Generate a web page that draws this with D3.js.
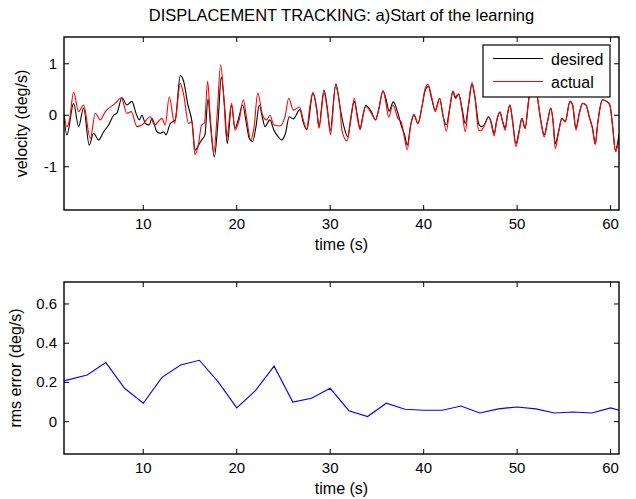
<!DOCTYPE html>
<html>
<head>
<meta charset="utf-8">
<script src="https://cdn.jsdelivr.net/npm/d3@7"></script>
<style>
  body { margin: 0; background: #fff; }
  svg { display: block; }
  text { font-family: "Liberation Sans", Arial, sans-serif; fill: #000; }
</style>
</head>
<body>
<svg id="chart" width="636" height="499"></svg>
<script>
// desired velocity (deg/s), read at turning points: [time, value]
var desired = [
  [1.52,-0.05],[1.83,-0.38],[2.55,0.23],[3.08,-0.22],[3.62,0.14],[4.22,-0.58],[4.69,-0.35],
  [5.22,-0.48],[5.76,-0.32],[6.29,-0.19],[6.83,0.0],[7.18,0.04],[7.72,0.34],[8.25,0.2],
  [8.79,0.27],[9.22,0.04],[9.57,-0.09],[9.86,0.0],[10.22,-0.16],[10.64,-0.19],[10.93,-0.06],
  [11.46,-0.32],[11.82,-0.35],[12.18,-0.32],[12.43,-0.38],[12.89,-0.16],[13.42,-0.09],
  [13.96,0.77],[14.32,0.66],[14.78,0.2],[15.21,-0.12],[15.56,-0.68],[15.92,-0.58],
  [16.24,-0.48],[16.6,-0.38],[16.93,0.32],[17.2,-0.2],[17.6,-0.81],[18.0,-0.12],[18.35,0.74],
  [18.74,0.07],[18.99,-0.55],[19.45,0.2],[19.81,-0.25],[20.16,-0.09],[20.63,0.2],[21.06,-0.19],
  [21.34,-0.45],[21.7,-0.51],[22.06,-0.22],[22.41,0.2],[22.77,-0.06],[23.02,-0.22],[23.55,-0.09],
  [23.98,-0.29],[24.45,-0.42],[24.8,-0.48],[25.2,-0.36],[25.62,-0.03],[26.05,-0.07],[26.76,0.11],
  [27.12,-0.14],[27.5,-0.28],[28.15,0.43],[28.55,0.14],[28.8,-0.22],[29.33,0.49],[29.69,0.14],
  [30.0,-0.3],[30.61,0.61],[31.1,0.1],[31.47,-0.22],[31.88,-0.42],[32.2,-0.05],[32.58,0.27],
  [32.9,0.0],[33.2,-0.26],[33.5,0.0],[33.8,0.19],[34.4,0.07],[34.85,-0.09],[35.2,0.12],
  [35.65,0.47],[36.0,0.3],[36.3,0.08],[36.75,0.26],[37.25,0.04],[37.6,-0.2],[37.96,-0.38],
  [38.25,-0.58],[38.6,-0.2],[38.96,0.0],[39.39,-0.16],[39.82,0.17],[40.17,0.49],[40.5,0.56],
  [40.85,0.33],[41.24,0.1],[41.71,0.33],[42.06,0.0],[42.42,-0.19],[42.8,0.15],[43.13,0.46],
  [43.4,0.33],[43.74,0.41],[44.1,0.14],[44.45,-0.16],[44.8,0.2],[45.17,0.6],[45.5,0.33],
  [45.88,-0.16],[46.12,-0.22],[46.5,-0.18],[46.95,-0.03],[47.2,-0.12],[47.55,-0.35],[47.8,-0.12],
  [48.16,0.06],[48.45,-0.12],[48.73,-0.25],[48.98,0.04],[49.23,0.2],[49.5,-0.09],[49.87,-0.55],
  [50.2,-0.32],[50.51,-0.06],[50.85,-0.25],[51.22,0.27],[51.5,0.6],[51.8,0.72],[52.19,0.33],
  [52.55,-0.12],[52.9,-0.38],[53.25,-0.12],[53.61,0.14],[53.85,-0.12],[54.08,-0.55],[54.43,-0.32],
  [54.79,-0.06],[55.15,-0.12],[55.65,0.27],[55.94,0.2],[56.29,-0.25],[56.65,0.04],[57.0,0.23],
  [57.36,0.2],[57.72,-0.03],[58.07,-0.25],[58.36,-0.55],[58.6,-0.19],[58.86,0.14],[59.14,0.3],
  [59.57,0.27],[59.92,0.2],[60.21,-0.19],[60.5,-0.68],[60.9,-0.38]
];

// actual velocity (deg/s)
var actual = [
  [1.52,0.02],[1.83,-0.22],[2.1,-0.1],[2.55,0.45],[3.08,0.07],[3.62,0.2],[4.33,-0.45],
  [4.87,0.04],[5.4,-0.09],[5.94,0.07],[7.0,0.23],[7.65,0.34],[8.25,0.04],[8.72,0.07],
  [9.32,-0.22],[9.86,-0.19],[10.75,-0.03],[11.21,-0.19],[12.0,-0.06],[12.35,-0.19],[12.78,0.36],
  [13.35,-0.16],[13.96,0.62],[14.32,0.4],[14.85,-0.16],[15.2,-0.12],[15.53,-0.76],[15.89,-0.58],
  [16.24,-0.19],[16.55,-0.15],[16.89,0.66],[17.15,0.0],[17.56,-0.71],[17.9,0.0],[18.28,0.98],
  [18.62,0.33],[18.92,-0.45],[19.45,0.23],[19.81,-0.29],[20.27,-0.09],[20.7,0.3],[21.06,-0.06],
  [21.49,-0.48],[21.84,-0.25],[22.25,0.43],[22.77,0.0],[23.2,-0.09],[23.55,0.0],[23.98,-0.19],
  [24.62,-0.21],[25.16,-0.03],[25.57,0.33],[26.05,0.1],[26.72,0.16],[27.12,-0.09],[27.47,-0.27],
  [27.83,0.17],[28.15,0.44],[28.6,0.04],[28.8,-0.25],[29.33,0.43],[29.8,-0.05],[30.04,-0.38],
  [30.55,0.55],[31.04,0.17],[31.25,-0.29],[31.8,-0.5],[32.2,-0.1],[32.58,0.33],[32.9,-0.05],
  [33.2,-0.28],[33.5,-0.02],[33.8,0.17],[34.4,0.04],[34.85,-0.09],[35.2,0.12],[35.65,0.48],
  [36.0,0.2],[36.25,-0.04],[36.71,0.2],[37.25,-0.06],[37.6,-0.13],[37.96,-0.45],[38.25,-0.67],
  [38.6,-0.2],[38.96,0.02],[39.39,-0.16],[39.82,0.17],[40.17,0.52],[40.46,0.6],[40.85,0.36],
  [41.24,0.07],[41.71,0.33],[42.06,0.0],[42.42,-0.31],[42.8,0.15],[43.13,0.47],[43.4,0.36],
  [43.74,0.41],[44.1,0.1],[44.45,-0.32],[44.8,0.2],[45.17,0.64],[45.5,0.33],[45.88,-0.29],
  [46.12,-0.3],[46.5,-0.2],[46.95,-0.03],[47.2,-0.14],[47.55,-0.4],[47.8,-0.12],[48.16,0.06],
  [48.45,-0.13],[48.73,-0.29],[48.98,0.03],[49.23,0.2],[49.5,-0.1],[49.87,-0.61],[50.2,-0.34],
  [50.51,-0.06],[50.85,-0.26],[51.22,0.27],[51.5,0.62],[51.8,0.74],[52.19,0.33],[52.55,-0.13],
  [52.9,-0.42],[53.25,-0.13],[53.61,0.14],[53.85,-0.14],[54.08,-0.65],[54.43,-0.34],[54.79,-0.06],
  [55.15,-0.13],[55.65,0.27],[55.94,0.2],[56.29,-0.29],[56.65,0.03],[57.0,0.23],[57.36,0.2],
  [57.72,-0.04],[58.07,-0.27],[58.36,-0.57],[58.6,-0.2],[58.86,0.13],[59.14,0.3],[59.57,0.27],
  [59.92,0.2],[60.21,-0.22],[60.55,-0.71],[60.9,-0.45]
];

// rms error (deg/s) every 2 s
var rmsTime = [1.52,4,6,8,10,12,14,16,18,20,22,24,26,28,30,32,34,36,38,40,42,44,46,48,50,52,54,56,58,60,60.9];
var rmsErr  = [0.208,0.238,0.301,0.17,0.094,0.226,0.289,0.313,0.204,0.07,0.158,0.283,0.1,0.119,0.17,
               0.056,0.026,0.094,0.063,0.058,0.058,0.08,0.044,0.065,0.075,0.065,0.044,0.049,0.044,0.07,0.058];

var timeTicks = [10, 20, 30, 40, 50, 60];
var velTicks = [-1, 0, 1];
var rmsTicks = [0, 0.2, 0.4, 0.6];
var legendNames = ["desired", "actual"];
var legendColors = ["#000000", "#ff0000"];

var svg = d3.select("#chart");
var L = 64, R = 619;

function drawAxes(g, x, y, xt, yt, yfmt, top, bot, ylabel, ylabelX) {
  var tl = 5;
  // box
  g.append("rect").attr("x", L).attr("y", top).attr("width", R - L).attr("height", bot - top)
    .attr("fill", "none").attr("stroke", "#000").attr("stroke-width", 1.4);
  xt.forEach(function(t) {
    var px = x(t);
    g.append("line").attr("x1", px).attr("x2", px).attr("y1", bot).attr("y2", bot - tl).attr("stroke", "#000");
    g.append("line").attr("x1", px).attr("x2", px).attr("y1", top).attr("y2", top + tl).attr("stroke", "#000");
    g.append("text").attr("x", px).attr("y", bot + 19).attr("text-anchor", "middle")
      .style("font-size", "15px").text(t);
  });
  yt.forEach(function(v) {
    var py = y(v);
    g.append("line").attr("x1", L).attr("x2", L + tl).attr("y1", py).attr("y2", py).attr("stroke", "#000");
    g.append("line").attr("x1", R).attr("x2", R - tl).attr("y1", py).attr("y2", py).attr("stroke", "#000");
    g.append("text").attr("x", L - 7).attr("y", py + 5).attr("text-anchor", "end")
      .style("font-size", "15px").text(yfmt(v));
  });
  g.append("text").attr("x", (L + R) / 2).attr("y", bot + 40).attr("text-anchor", "middle")
    .style("font-size", "16px").text("time (s)");
  g.append("text").attr("transform", "translate(" + ylabelX + "," + (top + bot) / 2 + ") rotate(-90)")
    .attr("text-anchor", "middle").style("font-size", "16px").text(ylabel);
}

// ---- top panel: velocity tracking
var top1 = 37, bot1 = 210;
var x1 = d3.scaleLinear().domain([1.52, 60.9]).range([L, R]);
var y1 = d3.scaleLinear().domain([-1.84, 1.52]).range([bot1, top1]);

svg.append("clipPath").attr("id", "clip1").append("rect")
  .attr("x", L).attr("y", top1).attr("width", R - L).attr("height", bot1 - top1);

var g1 = svg.append("g");
var velLine = d3.line().x(function(d) { return x1(d[0]); }).y(function(d) { return y1(d[1]); })
  .curve(d3.curveMonotoneX);
var plot1 = g1.append("g").attr("clip-path", "url(#clip1)");
plot1.append("path").datum(desired).attr("d", velLine).attr("fill", "none")
  .attr("stroke", legendColors[0]).attr("stroke-width", 1.1);
plot1.append("path").datum(actual).attr("d", velLine).attr("fill", "none")
  .attr("stroke", legendColors[1]).attr("stroke-width", 1.1);

drawAxes(g1, x1, y1, timeTicks, velTicks, function(v) { return v; }, top1, bot1, "velocity (deg/s)", 27);

g1.append("text").attr("x", (L + R) / 2).attr("y", 21).attr("text-anchor", "middle")
  .style("font-size", "16.5px").text("DISPLACEMENT TRACKING: a)Start of the learning");

// legend
var lg = g1.append("g");
lg.append("rect").attr("x", 483).attr("y", 45).attr("width", 127).attr("height", 52)
  .attr("fill", "#fff").attr("stroke", "#000").attr("stroke-width", 1.2);
legendNames.forEach(function(n, i) {
  var ly = 58.5 + i * 23;
  lg.append("line").attr("x1", 493).attr("x2", 543).attr("y1", ly).attr("y2", ly)
    .attr("stroke", legendColors[i]).attr("stroke-width", 1);
  lg.append("text").attr("x", 551).attr("y", ly + 6).style("font-size", "16px").text(n);
});

// ---- bottom panel: rms error
var top2 = 282, bot2 = 454;
var x2 = d3.scaleLinear().domain([1.52, 60.9]).range([L, R]);
var y2 = d3.scaleLinear().domain([-0.165, 0.712]).range([bot2, top2]);
var g2 = svg.append("g");
var rmsLine = d3.line().x(function(d, i) { return x2(rmsTime[i]); }).y(function(d) { return y2(d); });
g2.append("path").datum(rmsErr).attr("d", rmsLine).attr("fill", "none")
  .attr("stroke", "#0000ff").attr("stroke-width", 1.1);

drawAxes(g2, x2, y2, timeTicks, rmsTicks, function(v) { return v === 0 ? "0" : d3.format(".1f")(v); },
  top2, bot2, "rms error (deg/s)", 21);
</script>
</body>
</html>
